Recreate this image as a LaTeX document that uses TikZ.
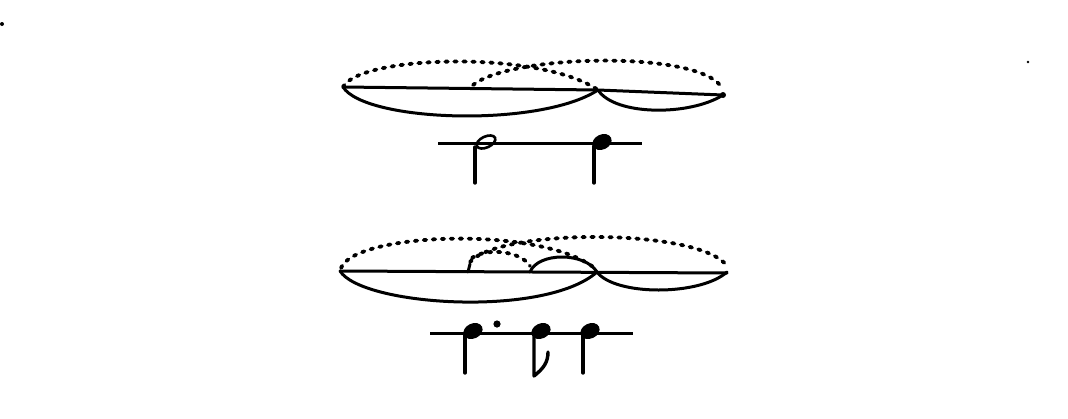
\documentclass[tikz,border=0pt]{standalone}
\begin{document}
\begin{tikzpicture}[x=1pt,y=-1pt,
  solidarc/.style={line width=3pt,line cap=round,line join=round},
  dotarc/.style={line width=3.8pt,line cap=round,dash pattern=on 2.5pt off 6.5pt},
  staffline/.style={line width=3pt},
  stemline/.style={line width=3.4pt,line cap=round},
  headfill/.style={fill=black},
  headopen/.style={draw=black,line width=2.6pt}]
\useasboundingbox (0,0) rectangle (1068,418);
% specks
\fill (2,24) circle (2pt);
\fill (1028,62) circle (1.4pt);
% ---------- top figure ----------
\draw[solidarc] (343,87) -- (598,90) -- (723,95);
\draw[solidarc] (343,87) .. controls (365,122) and (540,128) .. (598,90);
\draw[solidarc] (598,90) .. controls (615,116) and (690,116) .. (723,95);
\fill (723,95) circle (3pt);
\draw[dotarc] (343,87) .. controls (360,55) and (540,50) .. (598,90);
\draw[dotarc] (473,85) .. controls (510,55) and (690,50) .. (720,85);
% notes
\draw[staffline] (438,143) -- (642,143);
\draw[headopen,shift={(486,142)},rotate=25] (0,0) ellipse [x radius=10pt,y radius=5.5pt];
\draw[stemline] (475,147) -- (475,183);
\fill[headfill,shift={(602,142)},rotate=25] (0,0) ellipse [x radius=10pt,y radius=7.5pt];
\draw[stemline] (594,146) -- (594,183);
% ---------- bottom figure ----------
\draw[solidarc] (340,271) -- (727,273);
\draw[solidarc] (340,271) .. controls (362,306) and (545,318) .. (597,272);
\draw[solidarc] (597,272) .. controls (615,296) and (700,296) .. (727,272);
\draw[dotarc] (341,268) .. controls (355,232) and (545,225) .. (597,270);
\draw[dotarc] (470,262) .. controls (500,228) and (700,228) .. (727,266);
\draw[dotarc] (472,258) .. controls (485,248) and (520,250) .. (530,266);
\draw[solidarc] (530,272) .. controls (538,252) and (585,252) .. (597,272);
\draw[solidarc] (468,272) -- (470,264);
% notes
\draw[staffline] (430,333) -- (633,333);
\fill[headfill,shift={(473,331)},rotate=25] (0,0) ellipse [x radius=10pt,y radius=7.5pt];
\draw[stemline] (465,334) -- (465,373);
\fill (497,324) circle (3.6pt);
\fill[headfill,shift={(541,331)},rotate=25] (0,0) ellipse [x radius=10pt,y radius=7.5pt];
\draw[stemline,line join=round] (534,334) -- (534,376) .. controls (544,368) and (548,362) .. (548,352);
\fill[headfill,shift={(590,331)},rotate=25] (0,0) ellipse [x radius=10pt,y radius=7.5pt];
\draw[stemline] (583,334) -- (583,373);
\end{tikzpicture}
\end{document}
